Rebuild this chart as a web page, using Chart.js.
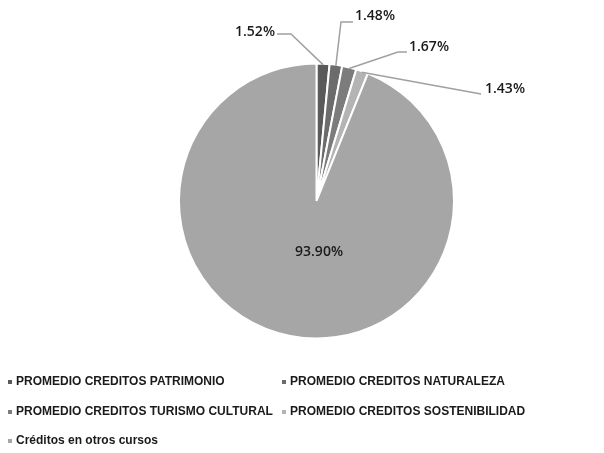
<!DOCTYPE html>
<html lang="es">
<head>
  <meta charset="UTF-8">
  <script src="https://cdn.jsdelivr.net/npm/chart.js@4.4.1/dist/chart.umd.min.js"></script>
  <title>Créditos</title>
  <style>
    body { margin: 0; background: #fff; }
    #wrap { position: relative; width: 604px; height: 453px; }
    #legend { position: absolute; left: 8px; top: 374px; width: 596px;
      font-family: "Liberation Sans Narrow", "Arial Narrow", "Liberation Sans", sans-serif;
      font-weight: bold; font-size: 12px; color: #1a1a1a; }
    #legend div { position: absolute; white-space: nowrap; }
    #legend span { display: inline-block; width: 4px; height: 4px; margin-right: 4px; vertical-align: middle; }
  </style>
</head>
<body>
  <div id="wrap">
    <canvas id="pie" width="604" height="453"></canvas>
    <div id="legend"></div>
  </div>

<script>
  // datos
  var categorias = [
    'PROMEDIO CREDITOS PATRIMONIO',
    'PROMEDIO CREDITOS NATURALEZA',
    'PROMEDIO CREDITOS TURISMO CULTURAL',
    'PROMEDIO CREDITOS SOSTENIBILIDAD',
    'Créditos en otros cursos'
  ];
  var porcentajes = [1.52, 1.48, 1.67, 1.43, 93.90];
  var colores = ['#5a5a5a', '#6c6c6c', '#7c7c7c', '#b4b4b4', '#a6a6a6'];

  // posiciones de las etiquetas (centro del texto) y codo de la linea guia
  var etiquetas = [
    { x: 255, y: 32, codo: [291, 34] },
    { x: 375, y: 16, codo: [341, 22] },
    { x: 429, y: 47, codo: [398, 52] },
    { x: 505, y: 89, codo: null },
    { x: 319, y: 252, codo: null, dentro: true }
  ];

  var etiquetasPlugin = {
    id: 'etiquetas',
    afterDatasetsDraw: function (chart) {
      var ctx = chart.ctx;
      var arcs = chart.getDatasetMeta(0).data;
      ctx.save();
      ctx.font = '600 14px "Open Sans", "Liberation Sans", sans-serif';
      ctx.textAlign = 'center';
      ctx.textBaseline = 'middle';
      arcs.forEach(function (arc, i) {
        var e = etiquetas[i];
        var texto = porcentajes[i].toFixed(2) + '%';
        if (!e.dentro) {
          var mid = (arc.startAngle + arc.endAngle) / 2;
          var ax = arc.x + Math.cos(mid) * (arc.outerRadius - 1);
          var ay = arc.y + Math.sin(mid) * (arc.outerRadius - 1);
          var w = ctx.measureText(texto).width;
          ctx.strokeStyle = '#a0a0a0';
          ctx.lineWidth = 1.5;
          ctx.beginPath();
          ctx.moveTo(ax, ay);
          if (i === 0) {
            ctx.lineTo(e.codo[0], e.codo[1]);
            ctx.lineTo(e.x + w / 2 + 2, e.codo[1]);
          } else if (e.codo) {
            ctx.lineTo(e.codo[0], e.codo[1]);
            ctx.lineTo(e.x - w / 2 - 2, e.codo[1]);
          } else {
            ctx.lineTo(e.x - w / 2 - 4, e.y + 5);
          }
          ctx.stroke();
        }
        ctx.fillStyle = '#1a1a1a';
        ctx.fillText(texto, e.x, e.y);
      });
      ctx.restore();
    }
  };

  var ctx = document.getElementById('pie').getContext('2d');
  var grafico = new Chart(ctx, {
    type: 'pie',
    data: {
      labels: categorias,
      datasets: [{
        data: porcentajes,
        backgroundColor: colores,
        borderColor: '#ffffff',
        borderWidth: 2
      }]
    },
    options: {
      responsive: false,
      animation: false,
      layout: { padding: { top: 62, bottom: 113, left: 178, right: 149 } },
      plugins: {
        legend: { display: false },
        tooltip: { enabled: false }
      }
    },
    plugins: [etiquetasPlugin]
  });

  // leyenda en dos columnas
  var posLeyenda = [[0, 0], [274, 0], [0, 30], [274, 30], [0, 59]];
  var legend = document.getElementById('legend');
  categorias.forEach(function (c, i) {
    var d = document.createElement('div');
    d.style.left = posLeyenda[i][0] + 'px';
    d.style.top = posLeyenda[i][1] + 'px';
    d.innerHTML = '<span style="background:' + colores[i] + '"></span>' + c;
    legend.appendChild(d);
  });
</script>
</body>
</html>
